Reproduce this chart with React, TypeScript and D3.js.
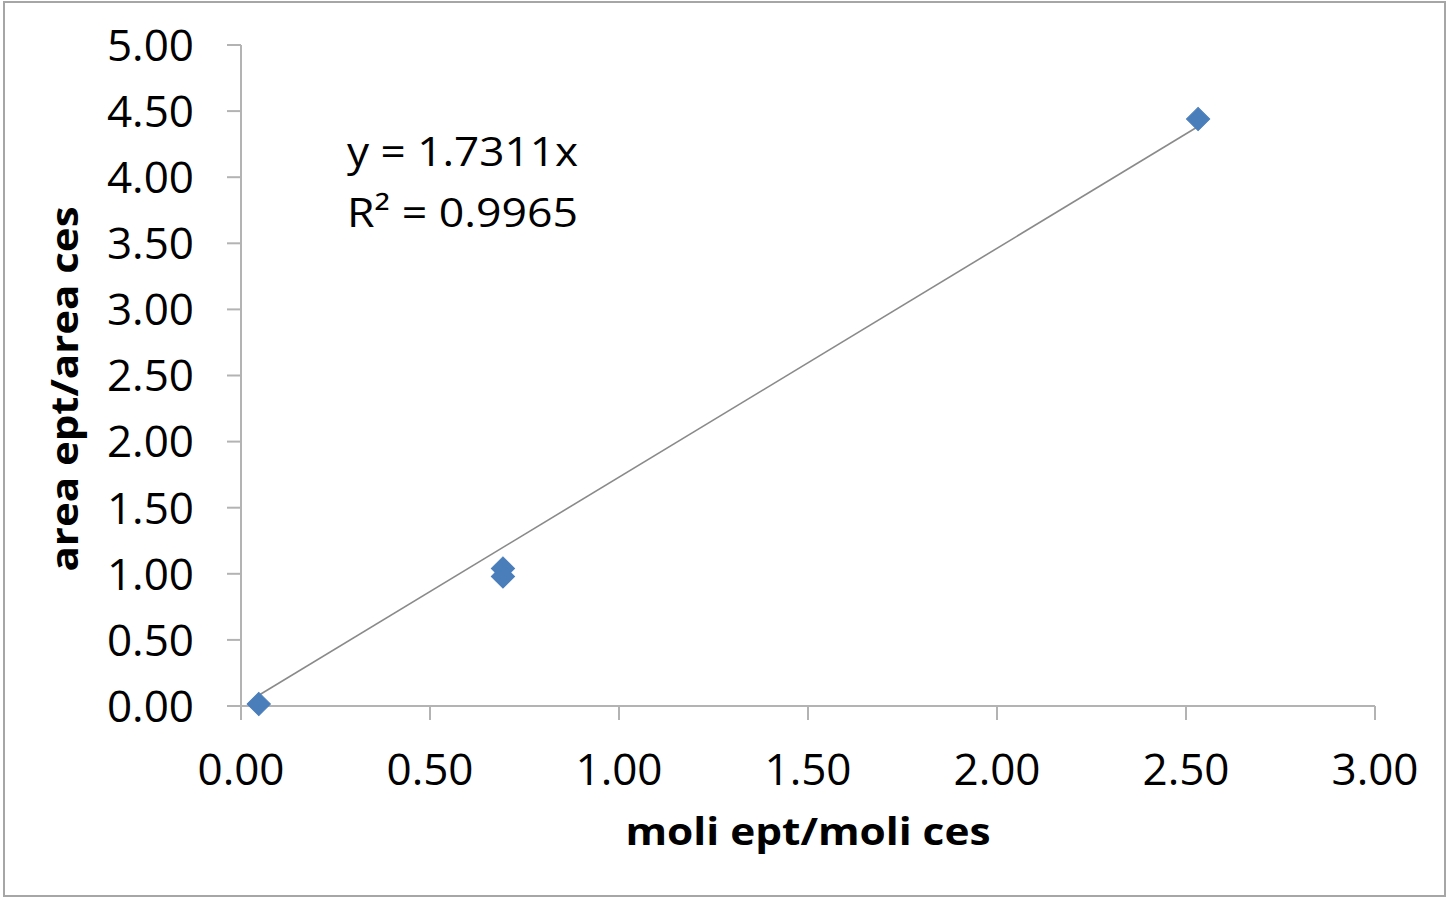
import React from "react";
import * as d3 from "d3";

const xValues = [0.047, 0.693, 0.693, 2.532];
const yValues = [0.015, 1.04, 0.98, 4.44];
const xTicks = [0, 0.5, 1, 1.5, 2, 2.5, 3];
const yTicks = [0, 0.5, 1, 1.5, 2, 2.5, 3, 3.5, 4, 4.5, 5];
const slope = 1.7311;
const equationLines = ["y = 1.7311x", "R² = 0.9965"];
const xTitle = "moli ept/moli ces";
const yTitle = "area ept/area ces";

const W = 1449;
const H = 900;
const FONT = "'Open Sans', 'Noto Sans', sans-serif";

export default function App() {
  const x = d3.scaleLinear().domain([0, 3]).range([241, 1375]);
  const y = d3.scaleLinear().domain([0, 5]).range([706, 45]);
  const axisColor = "#B3B3B3";
  const xmin = d3.min(xValues) as number;
  const xmax = d3.max(xValues) as number;
  const line = d3.line<number>().x((d) => x(d)).y((d) => y(slope * d));
  const diamond = d3.symbol().type(d3.symbolSquare).size(270)();

  return (
    <div style={{ position: "absolute", left: 0, top: 0 }}>
      <svg width={W} height={H} style={{ display: "block", background: "#fff" }}>
        <rect x={4} y={2} width={1441} height={894} fill="#fff" stroke="#A6A6A6" strokeWidth={2} />
        {/* axes */}
        <line x1={x(0)} x2={x(0)} y1={y(5)} y2={y(0) + 14} stroke={axisColor} strokeWidth={2} />
        <line x1={x(0) - 14} x2={x(3)} y1={y(0)} y2={y(0)} stroke={axisColor} strokeWidth={2} />
        {yTicks.map((t) => (
          <g key={"y" + t}>
            <line x1={x(0) - 14} x2={x(0)} y1={y(t)} y2={y(t)} stroke={axisColor} strokeWidth={2} />
            <text x={194} y={y(t)} dy="0.36em" textAnchor="end" fontFamily={FONT} fontSize={44} fill="#000">
              {t.toFixed(2)}
            </text>
          </g>
        ))}
        {xTicks.map((t) => (
          <g key={"x" + t}>
            <line x1={x(t)} x2={x(t)} y1={y(0)} y2={y(0) + 14} stroke={axisColor} strokeWidth={2} />
            <text x={x(t)} y={785} textAnchor="middle" fontFamily={FONT} fontSize={44} fill="#000">
              {t.toFixed(2)}
            </text>
          </g>
        ))}
        {/* trendline */}
        <path d={line([xmin, xmax]) || ""} stroke="#8A8A8A" strokeWidth={1.6} fill="none" />
        {/* points */}
        {xValues.map((v, i) => (
          <path
            key={"p" + i}
            d={diamond || ""}
            transform={`translate(${x(v)},${y(yValues[i])}) rotate(45)`}
            fill="#4A7EBB"
            stroke="#4A7EBB"
            strokeWidth={1}
          />
        ))}
        {/* equation */}
        {equationLines.map((s, i) => (
          <text
            key={"eq" + i}
            x={347}
            y={166 + i * 61}
            fontFamily={FONT}
            fontSize={40}
            fill="#000"
            textLength={231}
            lengthAdjust="spacingAndGlyphs"
          >
            {s}
          </text>
        ))}
        {/* axis titles */}
        <text
          x={(x(0) + x(3)) / 2}
          y={845}
          textAnchor="middle"
          fontFamily={FONT}
          fontWeight="bold"
          fontSize={37}
          fill="#000"
          textLength={365}
          lengthAdjust="spacingAndGlyphs"
        >
          {xTitle}
        </text>
        <text
          transform="translate(78,389) rotate(-90)"
          textAnchor="middle"
          fontFamily={FONT}
          fontWeight="bold"
          fontSize={37}
          fill="#000"
          textLength={365}
          lengthAdjust="spacingAndGlyphs"
        >
          {yTitle}
        </text>
      </svg>
    </div>
  );
}
